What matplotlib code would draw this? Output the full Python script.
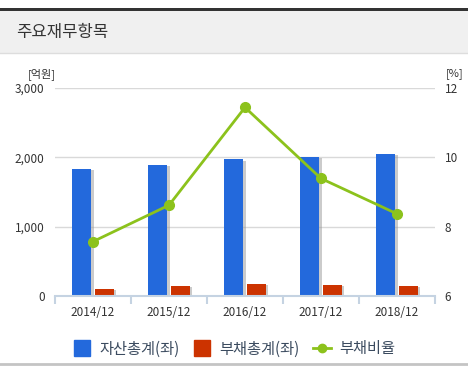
import matplotlib.pyplot as plt
import matplotlib.patheffects as pe
from matplotlib.lines import Line2D
from matplotlib.patches import Rectangle
import numpy as np

plt.rcParams['font.family'] = ['Noto Sans CJK KR', 'DejaVu Sans']

years = ['2014/12', '2015/12', '2016/12', '2017/12', '2018/12']
assets = [1833, 1890, 1973, 2010, 2050]
debts = [100, 145, 178, 163, 145]
debt_ratio = [7.57, 8.62, 11.44, 9.39, 8.37]

c_blue = '#2369dc'
c_red = '#cc3300'
c_green = '#8cc21c'
txt = '#333333'

W, H = 468, 376
fig = plt.figure(figsize=(W / 100, H / 100), dpi=100)

# header band
fig.patches.append(Rectangle((0, 1 - 53 / H), 1, 43 / H, transform=fig.transFigure,
                             facecolor='#f0f0f0', edgecolor='none', zorder=0))
fig.patches.append(Rectangle((0, 1 - 11 / H), 1, 3 / H, transform=fig.transFigure,
                             facecolor='#333333', edgecolor='none', zorder=1))
fig.add_artist(Line2D([0, 1], [1 - 53 / H] * 2, transform=fig.transFigure,
                      color='#dddddd', lw=1))
fig.text(16 / W, 1 - 32 / H, '주요재무항목', fontsize=12, color='#333333', va='center')

# bottom separator
fig.add_artist(Line2D([0, 1], [1 - 364 / H] * 2, transform=fig.transFigure,
                      color='#c4c4c4', lw=2))

ax = fig.add_axes([55 / W, 1 - 296 / H, 380 / W, 208 / H])
x = np.arange(len(years))
w = 0.25
shadow = [pe.SimplePatchShadow(offset=(1.5, -1), shadow_rgbFace='#999999', alpha=0.5), pe.Normal()]
b1 = ax.bar(x - w / 2 - 0.02, assets, width=w, color=c_blue, zorder=2)
b2 = ax.bar(x + w / 2 + 0.02, debts, width=w, color=c_red, zorder=2)
for b in list(b1) + list(b2):
    b.set_path_effects(shadow)

ax.set_xlim(-0.5, len(years) - 0.5)
ax.set_ylim(0, 3000)
ax.set_yticks([0, 1000, 2000, 3000])
ax.set_yticklabels(['0', '1,000', '2,000', '3,000'])
ax.yaxis.grid(True, color='#d9d9d9', lw=1)
ax.set_axisbelow(True)
for s in ['top', 'right', 'left']:
    ax.spines[s].set_visible(False)
ax.spines['bottom'].set_color('#c5d3e2')
ax.spines['bottom'].set_linewidth(1.5)
ax.set_xticks(x)
ax.set_xticklabels(years)
ax.set_xticks(np.arange(-0.5, len(years)), minor=True)
ax.tick_params(axis='x', which='major', length=0, pad=7, labelsize=8.5, labelcolor=txt)
ax.tick_params(axis='x', which='minor', length=6, color='#c5d3e2', width=1.5)
ax.tick_params(axis='y', length=0, pad=7.5, labelsize=8.5, labelcolor=txt)

ax2 = ax.twinx()
ax2.plot(x, debt_ratio, color=c_green, lw=2, marker='o', markersize=7, zorder=3)
ax2.set_ylim(6, 12)
ax2.set_yticks([6, 8, 10, 12])
for s in ax2.spines.values():
    s.set_visible(False)
ax2.tick_params(axis='y', length=0, pad=7, labelsize=8.5, labelcolor=txt)

fig.text(28 / W, 1 - 74 / H, '[억원]', fontsize=8, color=txt, va='center')
fig.text(446 / W, 1 - 74 / H, '[%]', fontsize=8, color=txt, va='center')

handles = [Line2D([], [], ls='none', marker='s', markersize=11, color=c_blue),
           Line2D([], [], ls='none', marker='s', markersize=11, color=c_red),
           Line2D([], [], color=c_green, lw=2, marker='o', markersize=6)]
leg = fig.legend(handles, ['자산총계(좌)', '부채총계(좌)', '부채비율'],
                 loc='center', bbox_to_anchor=(0.5, 1 - 349 / H), ncol=3, frameon=False,
                 fontsize=11, handlelength=1.2, handletextpad=0.5,
                 columnspacing=0.9, labelcolor='#3b4b5f')

fig.savefig('out.png', dpi=100)
